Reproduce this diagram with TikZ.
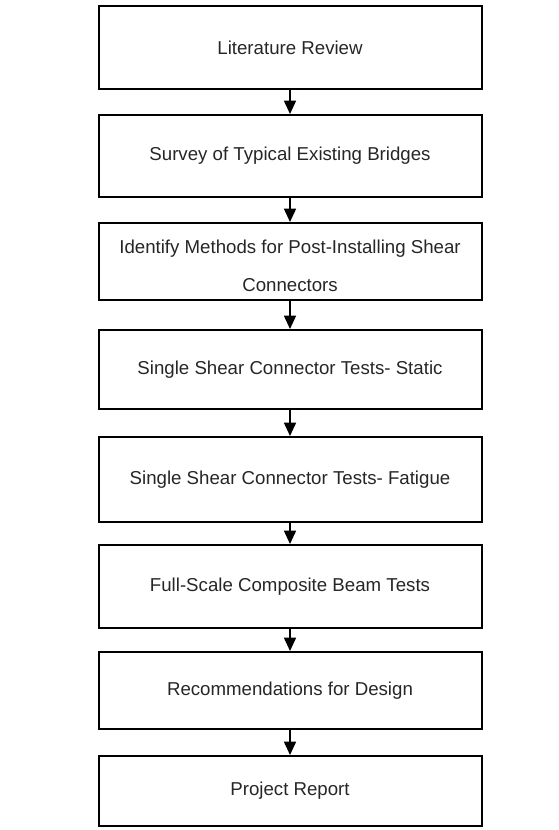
\documentclass[tikz,border=0pt]{standalone}
\usepackage{fontspec}
\setmainfont{Liberation Sans}
\usetikzlibrary{arrows.meta}
\begin{document}
\begin{tikzpicture}[x=0.75pt,y=-0.75pt,
  stage/.style={draw,line width=1.5pt,minimum width=383*0.75pt,inner sep=0pt,
    font=\fontsize{14}{16}\selectfont,text=black!85},
  flow/.style={line width=1.2pt,-{Triangle[width=9pt,length=10pt]}}]
\useasboundingbox (0,0) rectangle (559,830);
% process stages, top to bottom
\node[stage,minimum height=83*0.75pt] (s1) at (290,47.5) {Literature Review};
\node[stage,minimum height=82*0.75pt] (s2) at (290,156) {Survey of Typical Existing Bridges};
\node[stage,minimum height=77*0.75pt] (s3) at (290,261.5) {};
\node[font=\fontsize{14}{28.5}\selectfont,text=black!85,align=center] (t3) at (290,266)
  {Identify Methods for Post-Installing Shear\\Connectors};
\node[stage,minimum height=79*0.75pt] (s4) at (290,369.5) {Single Shear Connector Tests- Static};
\node[stage,minimum height=85*0.75pt] (s5) at (290,479.5) {Single Shear Connector Tests- Fatigue};
\node[stage,minimum height=83*0.75pt] (s6) at (290,586.5) {Full-Scale Composite Beam Tests};
\node[stage,minimum height=77*0.75pt] (s7) at (290,690.5) {Recommendations for Design};
\node[stage,minimum height=70*0.75pt] (s8) at (290,791) {Project Report};
% connectors
\foreach \a/\b in {s1/s2,s2/s3,s3/s4,s4/s5,s5/s6,s6/s7,s7/s8}
  \draw[flow] (\a.south) -- (\b.north);
\end{tikzpicture}
\end{document}
